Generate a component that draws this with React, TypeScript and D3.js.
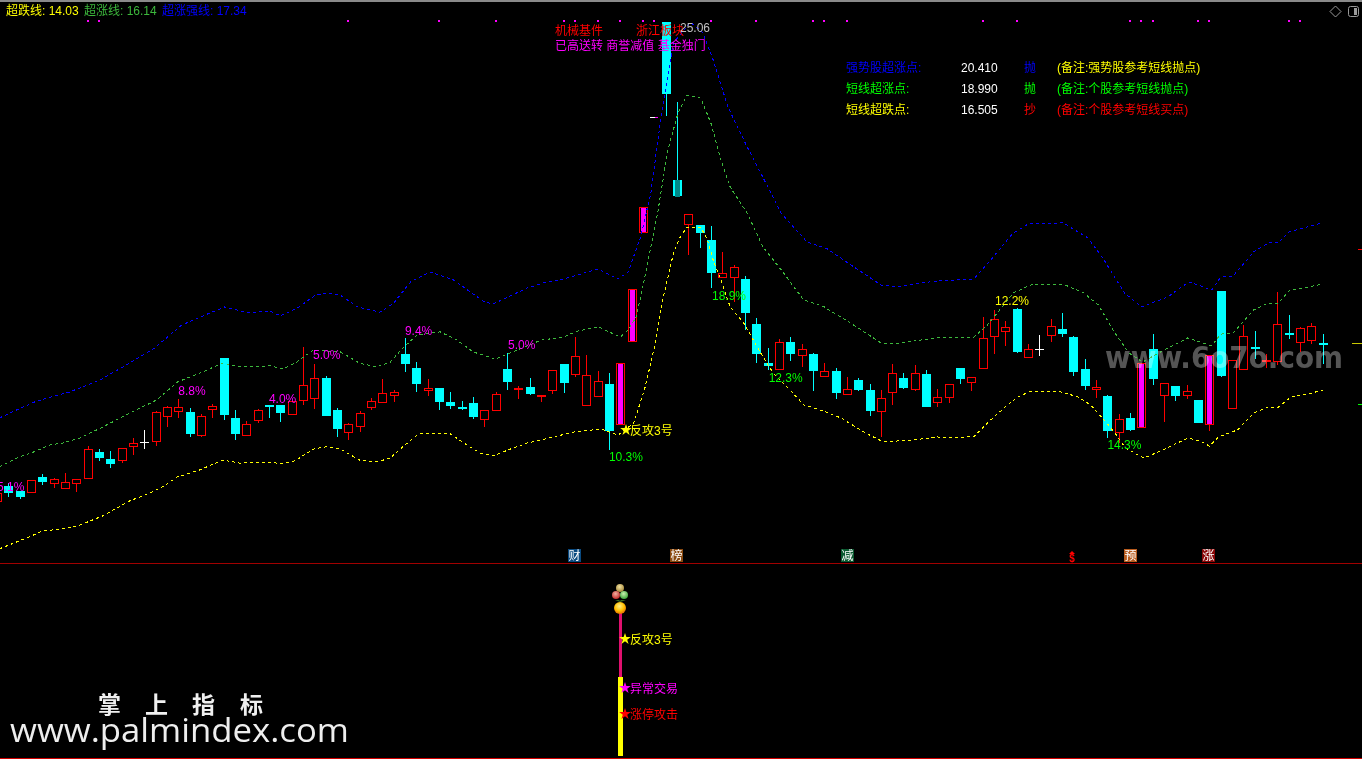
import React from "react";
import * as d3 from "d3";

const W = 1362;
const H = 759;

// Daily bars (price units)
const opens = [
  12.33,12.72,12.59,12.57,12.96,12.80,12.67,12.80,12.94,13.62,
  13.44,13.41,13.78,13.89,13.91,14.57,14.71,14.68,14.07,14.76,
  16.11,14.52,14.07,14.47,14.87,14.87,14.63,15.00,15.05,15.58,
  14.73,14.15,14.31,14.81,14.94,15.13,16.21,15.84,15.26,15.32,
  14.94,14.81,14.92,14.50,14.73,15.82,15.29,15.34,15.12,15.26,
  15.95,15.69,14.87,15.10,15.42,14.36,16.56,19.44,22.48,24.99,
  20.81,19.65,19.62,19.23,18.25,18.25,18.20,17.01,15.97,15.82,
  16.53,16.19,16.21,15.63,15.76,15.16,15.53,15.26,14.71,15.21,
  15.58,15.29,15.69,14.94,15.08,15.84,15.47,15.84,16.69,16.82,
  17.40,16.13,16.35,16.72,16.87,16.66,15.82,15.29,15.10,14.15,
  14.52,14.28,16.35,15.13,15.37,15.13,15.00,14.36,17.88,14.79,
  15.82,16.40,16.05,16.03,16.77,16.53,16.58,16.51,
];
const closes = [
  12.54,12.54,12.43,12.88,12.83,12.91,12.83,12.91,13.70,13.46,
  13.31,13.73,13.86,13.89,14.68,14.81,14.81,14.10,14.57,14.84,
  14.60,14.10,14.36,14.73,14.81,14.65,14.97,15.39,15.58,14.57,
  14.23,14.36,14.65,14.97,15.18,15.21,15.95,15.42,15.32,14.94,
  14.84,14.76,14.55,14.73,15.16,15.47,15.32,15.16,15.13,15.79,
  15.45,16.16,15.66,15.50,14.18,15.97,17.93,20.10,22.48,23.09,
  20.39,19.92,19.41,18.36,18.36,18.51,17.30,16.21,15.90,16.53,
  16.21,16.35,15.76,15.76,15.18,15.29,15.26,14.71,15.05,15.71,
  15.32,15.71,14.81,15.08,15.42,15.55,15.61,16.64,17.14,16.93,
  16.27,16.35,16.35,16.95,16.74,15.74,15.37,15.33,14.18,14.50,
  14.21,15.97,15.55,15.45,15.10,15.24,14.39,16.19,15.63,16.06,
  16.69,16.39,16.06,17.01,16.72,16.90,16.95,16.50,
];
const highs = [
  12.54,12.80,12.59,12.88,13.04,12.94,13.07,12.91,13.78,13.70,
  13.65,13.73,13.99,14.21,14.71,14.84,15.02,14.79,14.63,14.89,
  16.11,14.73,14.44,14.76,14.87,14.87,14.97,16.40,15.95,15.63,
  14.79,14.39,14.71,15.05,15.55,15.26,16.64,16.00,15.55,15.32,
  15.21,14.97,15.08,14.73,15.21,16.24,15.37,15.58,15.13,15.79,
  15.95,16.66,16.19,15.76,15.71,15.97,17.93,20.10,22.48,24.99,
  22.88,19.92,19.62,19.60,18.91,18.57,18.28,17.17,16.37,16.61,
  16.66,16.48,16.24,15.97,15.84,15.61,15.58,15.42,15.26,15.95,
  15.71,15.92,15.79,15.29,15.42,15.84,15.61,17.19,17.38,17.09,
  17.43,16.48,16.72,17.14,17.30,16.69,16.08,15.53,15.13,14.63,
  14.65,15.97,16.74,15.45,15.37,15.39,15.00,16.19,17.88,16.06,
  16.98,16.82,16.21,17.85,17.25,16.93,17.03,16.74,
];
const lows = [
  12.33,12.43,12.38,12.54,12.75,12.67,12.67,12.57,12.91,13.39,
  13.20,13.33,13.54,13.70,13.78,14.28,14.52,14.02,14.02,14.52,
  14.47,13.94,14.07,14.39,14.52,14.42,14.63,14.87,14.76,14.57,
  14.02,13.94,14.15,14.73,14.94,14.94,15.74,15.21,15.10,14.73,
  14.76,14.73,14.50,14.28,14.71,15.26,15.02,15.13,14.94,15.16,
  15.18,15.61,14.87,15.10,13.68,14.36,16.56,19.44,22.48,22.51,
  20.37,18.83,19.02,17.96,18.25,17.59,16.85,15.97,15.79,15.82,
  16.03,15.87,15.24,15.63,15.02,15.13,15.24,14.57,14.02,14.87,
  15.29,15.24,14.81,14.81,14.92,15.42,15.24,15.82,16.21,16.43,
  16.24,16.13,16.16,16.53,16.66,15.63,15.26,15.05,13.99,13.86,
  14.18,14.28,15.39,14.42,14.97,15.02,14.39,14.18,15.61,14.79,
  15.79,16.08,15.84,15.92,16.61,16.27,16.48,15.95,
];

const limitUpBars = [55, 56, 57, 101, 107];
const halfFlatBars = [58];
const dimmedBars = [60];
const flaggedBars = [8,9,31,39,44,50,51,53,55,57,58,63,67,72,73,75,87,90,100,101,102,106,107,114,115];

// Overlay lines: positions along the bar axis and the price read there
const lowerAt = [0.2,2.6,4,6.2,7.3,9.3,11.7,13.5,14.6,15.9,17.9,19.9,21.4,23.8,25.2,26.3,27.9,29,30.3,32,33.5,34.7,35.8,37.2,40,41.2,42.6,43.8,45.3,46.8,49.1,50.9,53.3,54.8,56.2,57.2,58.1,58.8,59.7,60.3,60.9,62.1,62.7,63.2,63.9,64.7,65.9,67.4,68.5,69.8,71.2,72.7,74.5,76.5,78.2,80.9,83,83.9,85.7,86.2,87.4,89.2,90.1,91.1,93.9,95.4,96.5,97.7,98.6,99.6,101.2,102.7,105.1,106.2,107,107.8,109.5,110.9,112.2,113.1,114.2,116,117];
const lowerVals = [11.06,11.35,11.53,11.61,11.69,11.93,12.33,12.54,12.70,12.96,13.15,13.41,13.33,13.36,13.31,13.39,13.70,13.76,13.70,13.41,13.36,13.46,13.76,14.10,14.10,13.86,13.60,13.52,13.70,13.86,14.02,14.15,14.23,14.07,14.39,15.34,16.50,17.72,18.88,19.31,19.57,19.57,19.23,18.70,18.17,17.46,17.03,16.24,15.71,15.32,14.87,14.73,14.52,14.15,13.89,13.94,14.02,13.99,14.02,14.02,14.39,14.87,15.08,15.21,15.21,15.08,14.87,14.47,14.15,13.73,13.46,13.65,13.99,13.91,13.78,14.02,14.21,14.65,14.81,14.81,15.08,15.18,15.26];
const middleAt = [0.2,1.7,3.2,4.7,5.8,7.3,9.3,11.7,14.1,15.9,17.9,19.9,21.6,24.1,25.2,26.3,27.9,30.3,32,33.5,34.7,35.8,37.1,39.1,40.6,42,44,45.9,48,50,51.2,53.1,55,55.7,56.4,57,57.7,58.3,59.2,60.1,60.9,62.1,63,63.9,64.7,66.2,67.6,69.2,71.2,73,75.6,78,79.1,83.3,86.2,87.4,89.2,89.7,91.4,94.1,95.9,97.2,98.6,99.9,101.1,103.3,105.1,107.2,108,109.1,110.9,112.2,113.1,114,116.9];
const middleVals = [13.23,13.46,13.62,13.81,13.86,13.99,14.28,14.65,15.00,15.47,15.71,15.97,15.87,15.90,15.82,15.97,16.32,16.27,15.97,15.87,16.00,16.37,16.72,16.80,16.58,16.27,16.08,16.32,16.58,16.66,16.82,16.93,16.66,16.85,17.19,17.99,19.04,19.94,21.61,22.59,23.06,22.98,22.32,21.34,20.63,19.94,19.04,18.44,17.64,17.46,16.98,16.51,16.48,16.66,16.66,16.98,17.64,17.83,18.06,18.06,17.83,17.51,16.80,16.24,16.00,16.37,16.64,16.43,16.74,16.77,17.38,17.56,17.56,17.88,18.06];
const upperAt = [0.2,1.7,3.5,6.4,9.1,11.1,13.8,16.3,18.8,20.1,22.1,24.1,25,26.5,28.1,29.2,30.3,31.8,33.8,35,36.5,38.2,40.3,43,43.8,46.8,48.2,49.7,53,54.8,55.7,56.8,57.7,58.6,59.2,59.7,61.2,62.3,63.2,64.5,66.2,67.4,69.2,71.5,73.3,75.1,78,79.5,82.7,86.2,87.7,89.3,89.7,91,94.1,96.3,97.7,99.5,101,103.3,105.2,107.2,108,109.1,110.9,112.2,113.1,114,116.9];
const upperVals = [14.52,14.73,14.97,15.21,15.53,15.87,16.35,16.98,17.30,17.46,17.30,17.35,17.22,17.43,17.77,17.83,17.77,17.46,17.32,17.56,18.12,18.38,18.17,17.59,17.54,17.96,18.09,18.17,18.46,18.20,18.38,19.31,20.47,22.48,23.54,24.44,24.99,24.70,23.99,22.75,21.69,21.00,19.94,19.17,18.99,18.62,18.04,17.99,18.14,18.20,18.70,19.28,19.41,19.65,19.68,19.28,18.70,17.83,17.46,17.72,18.12,17.91,18.25,18.28,18.91,19.15,19.15,19.44,19.68];

const legendNames = ["超跌线", "超涨线", "超涨强线"];
const legendValues = ["14.03", "16.14", "17.34"];
const tableNames = ["强势股超涨点:", "短线超涨点:", "短线超跌点:"];
const tableValues = ["20.410", "18.990", "16.505"];
const tableActions = ["抛", "抛", "抄"];
const tableNotes = ["(备注:强势股参考短线抛点)", "(备注:个股参考短线抛点)", "(备注:个股参考短线买点)"];
const industryLabels = ["机械基件", "浙江板块"];
const conceptLabel = "已高送转 商誉减值 基金独门";
const highLabel = "25.06";

const pctLabels = ["5.1%", "8.8%", "4.0%", "5.0%", "9.4%", "5.0%"];
const pctBars = [1.2, 17.2, 25.2, 29.1, 37.2, 46.3];
const pctPrices = [12.60, 15.14, 14.91, 16.08, 16.72, 16.34];
const lowPctLabels = ["10.3%", "18.9%", "12.3%", "14.3%"];
const lowPctBars = [54, 63.1, 68.1, 98];
const lowPctPrices = [13.39, 17.64, 15.47, 13.70];

const RED = "#ff0000";
const CYAN = "#00ffff";
const MAGENTA = "#ff00ff";
const YELLOW = "#ffff00";
const GREEN = "#00ff00";
const LINE_GREEN = "#3cb83c";
const BLUE = "#0000ff";
const FONT = "'Liberation Sans','Noto Sans CJK SC',sans-serif";

const x = d3.scaleLinear().domain([0, 117]).range([-2.9, 1322.7]);
const y = d3.scaleLinear().domain([10, 26]).range([589, -16.1]);
const px = (i: number) => Math.round(x(i));
const py = (p: number) => Math.round(y(p));

const lineGen = d3.line<[number, number]>().x((d) => x(d[0])).y((d) => y(d[1]));
const pathOf = (at: number[], vals: number[]) => lineGen(at.map((a, i) => [a, vals[i]] as [number, number])) as string;
const star = d3.symbol().type(d3.symbolStar).size(42)() as string;

function Candle({ i }: { i: number }) {
  const o = opens[i], c = closes[i], h = highs[i], l = lows[i];
  const cx = px(i);
  const top = py(Math.max(o, c));
  const bot = py(Math.min(o, c));
  const hy = py(h), ly = py(l);
  if (halfFlatBars.includes(i)) {
    return (
      <g>
        <rect x={cx - 4} y={top} width={5} height={1} fill="#ffffff" />
        <rect x={cx + 1} y={top} width={3} height={1} fill={MAGENTA} />
      </g>
    );
  }
  if (limitUpBars.includes(i)) {
    return (
      <g>
        <rect x={cx} y={bot} width={1} height={Math.max(ly - bot, 0)} fill={RED} />
        <rect x={cx - 3.5} y={top + 0.5} width={8} height={bot - top} fill="#000" stroke={RED} />
        <rect x={cx - 2} y={top + 1} width={5} height={Math.max(bot - top - 1, 1)} fill={MAGENTA} />
      </g>
    );
  }
  const doji = o === c;
  const up = c > o;
  const color = doji ? "#ffffff" : up ? RED : CYAN;
  return (
    <g>
      <rect x={cx} y={hy} width={1} height={Math.max(ly - hy, 1)} fill={color} />
      {doji || bot - top <= 1 ? (
        <rect x={cx - 4} y={top} width={9} height={doji ? 1 : 2} fill={color} />
      ) : up ? (
        <rect x={cx - 3.5} y={top + 0.5} width={8} height={bot - top} fill="#000" stroke={RED} />
      ) : (
        <rect x={cx - 4} y={top} width={9} height={bot - top} fill={CYAN} />
      )}
      {dimmedBars.includes(i) && <rect x={cx - 2} y={top} width={5} height={bot - top + 1} fill="#008888" />}
    </g>
  );
}

function Tag({ x0, label, fill }: { x0: number; label: string; fill: string }) {
  return (
    <g>
      <rect x={x0} y={549} width={13} height={13} fill={fill} />
      <text x={x0 + 6.5} y={560} textAnchor="middle" fontSize={12} fill="#ffffff">{label}</text>
    </g>
  );
}

export default function App() {
  const bars = d3.range(opens.length);
  return (
    <svg
      width={W}
      height={H}
      viewBox={`0 0 ${W} ${H}`}
      style={{ position: "fixed", left: 0, top: 0, display: "block", background: "#000" }}
      fontFamily={FONT}
    >
      <defs>
        <radialGradient id="ballO" cx="45%" cy="35%" r="70%">
          <stop offset="0%" stopColor="#ffee88" />
          <stop offset="55%" stopColor="#ffc000" />
          <stop offset="100%" stopColor="#e06000" />
        </radialGradient>
        <radialGradient id="ballR" cx="45%" cy="35%" r="70%">
          <stop offset="0%" stopColor="#f0b0a0" />
          <stop offset="100%" stopColor="#c02020" />
        </radialGradient>
        <radialGradient id="ballG" cx="45%" cy="35%" r="70%">
          <stop offset="0%" stopColor="#c8f0b0" />
          <stop offset="100%" stopColor="#30a030" />
        </radialGradient>
        <radialGradient id="ballT" cx="45%" cy="35%" r="70%">
          <stop offset="0%" stopColor="#f0e0a0" />
          <stop offset="100%" stopColor="#a08030" />
        </radialGradient>
      </defs>
      <rect x={0} y={0} width={W} height={H} fill="#000" />
      <rect x={0} y={0} width={W} height={2} fill="#8a8a8a" />
      <rect x={0} y={563} width={W} height={1} fill="#a00000" />
      <rect x={0} y={758} width={W} height={1} fill="#d00000" />

      {/* legend */}
      <g fontSize={12}>
        <text x={6} y={15} fill={YELLOW}>{legendNames[0]}: {legendValues[0]}</text>
        <text x={84} y={15} fill={LINE_GREEN}>{legendNames[1]}: {legendValues[1]}</text>
        <text x={162} y={15} fill={BLUE}>{legendNames[2]}: {legendValues[2]}</text>
      </g>

      {/* flag dots */}
      {flaggedBars.map((b) => (
        <rect key={b} x={px(b) - 1} y={20} width={2} height={2} fill={MAGENTA} />
      ))}

      {/* candles */}
      <g shapeRendering="crispEdges">
        {bars.map((i) => <Candle key={i} i={i} />)}
      </g>

      {/* overlay lines */}
      <g fill="none" strokeWidth={1} strokeDasharray="3 3" shapeRendering="crispEdges">
        <path d={pathOf(upperAt, upperVals)} stroke={BLUE} />
        <path d={pathOf(middleAt, middleVals)} stroke={LINE_GREEN} />
        <path d={pathOf(lowerAt, lowerVals)} stroke={YELLOW} />
      </g>

      {/* right-edge markers */}
      <g shapeRendering="crispEdges">
        <rect x={1358} y={249} width={4} height={1} fill={RED} />
        <rect x={1352} y={343} width={10} height={1} fill="#c8c800" />
        <rect x={1358} y={404} width={4} height={1} fill={GREEN} />
      </g>

      {/* window buttons */}
      <path d="M1335.5 6 L1341 11.5 L1335.5 17 L1330 11.5 Z" fill="none" stroke="#9a9a9a" />
      <rect x={1348.5} y={6.5} width={10} height={10} rx={2} fill="none" stroke="#9a9a9a" />
      <rect x={1354} y={8} width={3} height={7} fill="#9a9a9a" />

      {/* percentage labels */}
      <g fontSize={12}>
        {pctLabels.map((t, i) => (
          <text key={i} x={x(pctBars[i])} y={y(pctPrices[i])} textAnchor="middle" fill={MAGENTA}>{t}</text>
        ))}
        {lowPctLabels.map((t, i) => (
          <text key={i} x={x(lowPctBars[i])} y={y(lowPctPrices[i])} fill={GREEN}>{t}</text>
        ))}
        <text x={995} y={305} fill={YELLOW}>12.2%</text>
      </g>

      {/* signal in the price panel */}
      <path d={star} transform="translate(626,430)" fill={YELLOW} />
      <text x={630} y={435} fontSize={12} fill={YELLOW}>反攻3号</text>

      {/* stock notes */}
      <g fontSize={12}>
        <text x={555} y={35} fill={RED}>{industryLabels[0]}</text>
        <text x={636} y={35} fill={RED}>{industryLabels[1]}</text>
        <text x={680} y={32} fill="#c0c0c0">{highLabel}</text>
        <text x={555} y={50} fill={MAGENTA}>{conceptLabel}</text>
      </g>

      {/* table */}
      <g fontSize={12}>
        {tableNames.map((name, r) => {
          const yy = 72 + r * 21;
          const nameColor = [BLUE, GREEN, YELLOW][r];
          const actColor = [BLUE, GREEN, RED][r];
          const noteColor = [YELLOW, GREEN, RED][r];
          return (
            <g key={r}>
              <text x={846} y={yy} fill={nameColor}>{name}</text>
              <text x={961} y={yy} fill="#ffffff">{tableValues[r]}</text>
              <text x={1024} y={yy} fill={actColor}>{tableActions[r]}</text>
              <text x={1057} y={yy} fill={noteColor}>{tableNotes[r]}</text>
            </g>
          );
        })}
      </g>

      {/* event tags */}
      <Tag x0={568} label="财" fill="#0a4a80" />
      <Tag x0={670} label="榜" fill="#8a4a10" />
      <Tag x0={841} label="减" fill="#0a5a30" />
      <Tag x0={1124} label="预" fill="#b85c1e" />
      <Tag x0={1202} label="涨" fill="#8a0808" />
      <path d="M1072 551 L1075 554 L1069 554 Z" fill={RED} />
      <text x={1072} y={562} textAnchor="middle" fontSize={10} fontWeight="bold" fill={RED}>$</text>

      {/* lower panel */}
      <rect x={619} y={613} width={3} height={64} fill="#e0106e" />
      <rect x={618} y={677} width={5} height={79} fill={YELLOW} />
      <circle cx={620} cy={588} r={4} fill="url(#ballT)" />
      <circle cx={616} cy={595} r={4} fill="url(#ballR)" />
      <circle cx={624} cy={595} r={4} fill="url(#ballG)" />
      <path d="M620 602 L615 600 L619 600 L620 601 L621 600 L626 600 Z" fill="#3a6a20" />
      <circle cx={620} cy={608} r={6} fill="url(#ballO)" />
      <path d={star} transform="translate(625,639)" fill={YELLOW} />
      <text x={630} y={644} fontSize={12} fill={YELLOW}>反攻3号</text>
      <path d={star} transform="translate(625,688)" fill={MAGENTA} />
      <text x={630} y={693} fontSize={12} fill={MAGENTA}>异常交易</text>
      <path d={star} transform="translate(625,714)" fill={RED} />
      <text x={630} y={719} fontSize={12} fill={RED}>涨停攻击</text>

      {/* watermarks */}
      <text x={1105} y={368} fontSize={31} fontWeight="bold" fontFamily="'DejaVu Sans',sans-serif" fill="#555555" style={{ mixBlendMode: "lighten" }} textLength={238} lengthAdjust="spacingAndGlyphs">www.6o7o.com</text>
      <g fill="#f0f0f0" fontWeight="bold" fontSize={23} fontFamily="'Noto Sans CJK SC',sans-serif">
        <text x={98} y={713}>掌</text>
        <text x={145} y={713}>上</text>
        <text x={192} y={713}>指</text>
        <text x={240} y={713}>标</text>
      </g>
      <text x={10} y={742} fontSize={33} fontFamily="'Open Sans',sans-serif" fill="#eeeeee" textLength={339} lengthAdjust="spacingAndGlyphs">www.palmindex.com</text>
    </svg>
  );
}
